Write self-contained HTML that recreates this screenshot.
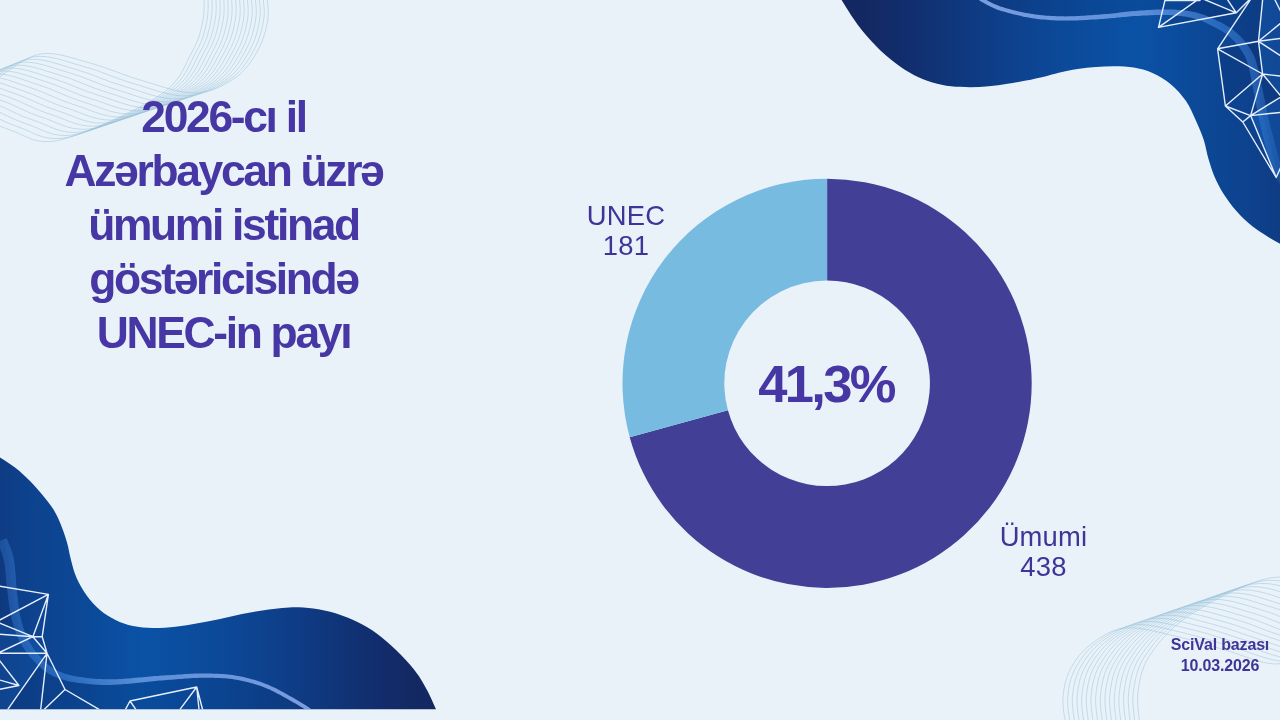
<!DOCTYPE html>
<html lang="az"><head><meta charset="utf-8"><title>UNEC</title>
<style>
html,body{margin:0;padding:0;}
body{width:1280px;height:720px;overflow:hidden;background:#e9f2f9;position:relative;font-family:"Liberation Sans",sans-serif;}
svg{position:absolute;left:0;top:0;}
.title{position:absolute;left:0;top:90.3px;width:447px;text-align:center;font-weight:bold;font-size:44.4px;line-height:54px;letter-spacing:-2.32px;color:#4737a4;}
.pct{position:absolute;left:726px;width:200px;top:354px;text-align:center;font-weight:bold;font-size:52.5px;line-height:60px;letter-spacing:-2.7px;color:#4737a4;}
.lab{position:absolute;font-size:27.4px;letter-spacing:0.2px;line-height:30px;text-align:center;color:#3f3598;}
.src{position:absolute;left:1140px;width:160px;top:633.8px;text-align:center;font-weight:bold;font-size:16px;line-height:21px;letter-spacing:-0.17px;color:#3f3598;}
</style></head><body>
<svg width="1280" height="720" viewBox="0 0 1280 720">
<defs>
<linearGradient id="g1" gradientUnits="userSpaceOnUse" x1="1280" y1="0" x2="840" y2="0">
<stop offset="0" stop-color="#0f3c84"/><stop offset="0.07" stop-color="#0d428e"/><stop offset="0.18" stop-color="#0c4896"/><stop offset="0.32" stop-color="#0a52a6"/><stop offset="0.52" stop-color="#0c4897"/><stop offset="0.7" stop-color="#0f3a82"/><stop offset="0.86" stop-color="#122d6c"/><stop offset="1" stop-color="#14265e"/>
</linearGradient>
<linearGradient id="b1" gradientUnits="userSpaceOnUse" x1="980" y1="0" x2="1280" y2="0"><stop offset="0" stop-color="#8fb0f0" stop-opacity="0.85"/><stop offset="0.55" stop-color="#6f9fe6" stop-opacity="0.8"/><stop offset="0.8" stop-color="#3f86e0" stop-opacity="0.55"/><stop offset="0.92" stop-color="#3f86e0" stop-opacity="0.45"/><stop offset="1" stop-color="#3f86e0" stop-opacity="0.22"/></linearGradient>
<linearGradient id="g2" gradientUnits="userSpaceOnUse" x1="0" y1="0" x2="440" y2="0">
<stop offset="0" stop-color="#0f3c84"/><stop offset="0.07" stop-color="#0d428e"/><stop offset="0.18" stop-color="#0c4896"/><stop offset="0.32" stop-color="#0a52a6"/><stop offset="0.52" stop-color="#0c4897"/><stop offset="0.7" stop-color="#0f3a82"/><stop offset="0.86" stop-color="#122d6c"/><stop offset="1" stop-color="#14265e"/>
</linearGradient>
<linearGradient id="b2" gradientUnits="userSpaceOnUse" x1="0" y1="0" x2="310" y2="0"><stop offset="0" stop-color="#3f86e0" stop-opacity="0.3"/><stop offset="0.08" stop-color="#3f86e0" stop-opacity="0.45"/><stop offset="0.2" stop-color="#3f86e0" stop-opacity="0.55"/><stop offset="0.45" stop-color="#6f9fe6" stop-opacity="0.8"/><stop offset="1" stop-color="#8fb0f0" stop-opacity="0.85"/></linearGradient>
<clipPath id="c1"><path d="M838.0 -6.0 C838.6 -5.0 838.4 -5.1 841.6 0.0 C844.9 5.1 851.8 16.7 857.5 24.4 C863.2 32.1 869.8 39.6 876.0 46.0 C882.2 52.4 888.7 58.0 895.0 62.8 C901.3 67.6 907.5 71.7 913.8 75.0 C920.0 78.3 926.3 80.6 932.5 82.5 C938.7 84.4 944.8 85.5 951.0 86.3 C957.2 87.1 963.7 87.2 970.0 87.2 C976.3 87.2 982.5 86.9 988.8 86.3 C995.0 85.7 1001.3 84.8 1007.5 83.8 C1013.7 82.8 1019.8 81.8 1026.0 80.6 C1032.2 79.4 1039.5 77.8 1045.0 76.5 C1050.5 75.2 1053.3 74.0 1058.8 72.8 C1064.2 71.5 1071.3 70.0 1077.5 69.0 C1083.7 68.0 1089.8 67.5 1096.0 67.0 C1102.2 66.5 1108.7 66.1 1115.0 66.2 C1121.3 66.3 1127.5 66.4 1133.8 67.5 C1140.0 68.6 1146.3 70.2 1152.5 73.0 C1158.7 75.8 1165.4 79.7 1171.0 84.4 C1176.6 89.1 1181.9 95.1 1186.0 101.0 C1190.1 106.9 1192.6 113.5 1195.6 120.0 C1198.6 126.5 1201.6 133.3 1203.8 140.0 C1205.9 146.7 1206.7 153.3 1208.8 160.0 C1210.8 166.7 1213.1 173.8 1216.0 180.0 C1218.9 186.2 1222.0 191.7 1226.0 197.5 C1230.0 203.3 1234.8 209.6 1240.0 215.0 C1245.2 220.4 1250.8 225.2 1257.5 230.0 C1264.2 234.8 1274.6 240.6 1280.0 243.8 C1285.4 246.9 1288.3 248.1 1290.0 249.0 L1290 -6 Z"/></clipPath>
<clipPath id="c2"><path d="M-8.0 452.0 C-6.7 452.9 -3.8 454.9 0.0 457.5 C3.8 460.1 10.0 463.6 15.0 467.5 C20.0 471.4 25.4 476.4 30.0 481.0 C34.6 485.6 38.5 490.2 42.5 495.0 C46.5 499.8 50.7 505.0 53.8 510.0 C56.8 515.0 58.8 519.6 61.0 525.0 C63.2 530.4 65.3 536.7 67.0 542.5 C68.7 548.3 69.4 554.1 71.0 560.0 C72.6 565.9 73.9 571.9 76.5 577.8 C79.1 583.7 82.8 590.1 86.7 595.5 C90.6 600.9 95.2 605.9 100.0 610.0 C104.8 614.1 110.0 617.3 115.5 620.0 C121.0 622.7 126.8 624.7 133.0 626.0 C139.2 627.3 145.9 627.9 153.0 628.0 C160.1 628.1 168.0 627.5 175.5 626.7 C183.0 625.9 190.4 624.6 197.8 623.3 C205.2 622.0 212.6 620.5 220.0 619.0 C227.4 617.5 234.7 615.5 242.0 614.0 C249.3 612.5 257.3 611.3 264.0 610.3 C270.7 609.3 276.2 608.5 282.0 608.0 C287.8 607.5 292.9 607.0 299.0 607.2 C305.1 607.4 311.8 608.1 318.3 609.2 C324.8 610.3 331.4 611.9 337.8 614.0 C344.2 616.1 350.5 618.5 357.0 621.8 C363.5 625.0 370.2 628.8 376.7 633.5 C383.2 638.2 389.5 643.7 396.0 650.0 C402.5 656.3 410.3 664.7 415.5 671.4 C420.7 678.1 423.6 683.7 427.0 690.0 C430.4 696.3 434.5 706.1 436.0 709.3 L-8 709.3 Z"/></clipPath>
</defs>
<g fill="none" stroke="#86b6d2" stroke-width="0.8" stroke-opacity="0.5"><path d="M266.0 -8.0 C266.3 -3.7 269.3 8.3 268.0 18.0 C266.7 27.7 263.5 40.0 258.0 50.0 C252.5 60.0 245.5 70.8 235.0 78.0 C224.5 85.2 210.8 92.7 195.0 93.0 C179.2 93.3 157.5 85.0 140.0 80.0 C122.5 75.0 106.7 67.3 90.0 63.0 C73.3 58.7 55.8 51.2 40.0 54.0 C24.2 56.8 2.5 75.7 -5.0 80.0"/><path d="M262.1 -8.0 C262.4 -3.6 265.3 8.4 263.9 18.1 C262.6 27.8 259.5 40.0 253.9 50.1 C248.3 60.3 241.5 71.4 230.3 79.1 C219.1 86.7 203.0 95.3 186.6 95.9 C170.2 96.6 149.2 88.1 131.9 83.1 C114.5 78.1 99.0 70.4 82.5 66.1 C66.0 61.7 48.8 54.2 33.1 56.9 C17.4 59.6 -4.1 78.0 -11.6 82.2"/><path d="M258.2 -8.0 C258.5 -3.6 261.3 8.5 259.9 18.2 C258.5 28.0 255.5 39.9 249.8 50.2 C244.0 60.6 237.6 72.0 225.6 80.1 C213.7 88.2 195.1 97.9 178.1 98.9 C161.1 99.9 140.9 91.2 123.8 86.2 C106.6 81.3 91.2 73.5 75.0 69.1 C58.8 64.7 41.8 57.2 26.2 59.8 C10.7 62.3 -10.7 80.3 -18.1 84.4"/><path d="M254.4 -8.0 C254.6 -3.6 257.3 8.6 255.8 18.4 C254.4 28.1 251.4 39.9 245.6 50.4 C239.8 60.8 233.6 72.6 220.9 81.2 C208.3 89.8 187.2 100.4 169.7 101.8 C152.1 103.2 132.7 94.3 115.6 89.4 C98.6 84.4 83.5 76.6 67.5 72.2 C51.5 67.7 34.7 60.2 19.4 62.6 C4.0 65.0 -17.3 82.6 -24.7 86.6"/><path d="M250.5 -8.0 C250.7 -3.6 253.2 8.8 251.8 18.5 C250.2 28.2 247.4 39.9 241.5 50.5 C235.6 61.1 229.6 73.2 216.2 82.2 C202.9 91.3 179.4 103.0 161.2 104.8 C143.1 106.5 124.4 97.4 107.5 92.5 C90.6 87.6 75.8 79.8 60.0 75.2 C44.2 70.8 27.7 63.2 12.5 65.5 C-2.7 67.8 -24.0 84.9 -31.2 88.8"/><path d="M246.6 -8.0 C246.8 -3.6 249.2 8.9 247.7 18.6 C246.1 28.4 243.4 39.8 237.4 50.6 C231.4 61.4 225.7 73.8 211.6 83.3 C197.5 92.8 171.5 105.6 152.8 107.7 C134.1 109.7 116.1 100.5 99.4 95.6 C82.7 90.7 68.1 82.9 52.5 78.3 C36.9 73.8 20.7 66.3 5.6 68.4 C-9.4 70.5 -30.6 87.2 -37.8 90.9"/><path d="M242.8 -8.0 C242.9 -3.5 245.2 9.0 243.6 18.8 C242.0 28.5 239.4 39.8 233.2 50.8 C227.1 61.7 221.7 74.4 206.9 84.4 C192.1 94.4 163.6 108.2 144.4 110.6 C125.1 113.0 107.8 103.6 91.2 98.8 C74.7 93.9 60.4 86.0 45.0 81.4 C29.6 76.8 13.6 69.3 -1.2 71.2 C-16.1 73.2 -37.2 89.5 -44.4 93.1"/><path d="M238.9 -8.0 C239.0 -3.5 241.2 9.1 239.6 18.9 C237.9 28.7 235.4 39.8 229.1 50.9 C222.9 62.0 217.7 75.0 202.2 85.4 C186.7 95.9 155.8 110.8 135.9 113.6 C116.1 116.3 99.5 106.7 83.1 101.9 C66.7 97.0 52.7 89.1 37.5 84.4 C22.3 79.8 6.6 72.3 -8.1 74.1 C-22.9 75.9 -43.8 91.8 -50.9 95.3"/><path d="M235.0 -8.0 C235.1 -3.5 237.2 9.2 235.5 19.0 C233.8 28.8 231.3 39.8 225.0 51.0 C218.7 62.2 213.8 75.6 197.5 86.5 C181.2 97.4 147.9 113.4 127.5 116.5 C107.1 119.6 91.2 109.8 75.0 105.0 C58.8 100.2 45.0 92.2 30.0 87.5 C15.0 82.8 -0.4 75.3 -15.0 77.0 C-29.6 78.7 -50.4 94.1 -57.5 97.5"/><path d="M231.1 -8.0 C231.2 -3.5 233.1 9.3 231.4 19.1 C229.7 29.0 227.3 39.7 220.9 51.1 C214.4 62.5 209.8 76.2 192.8 87.6 C175.8 98.9 140.1 116.0 119.1 119.4 C98.1 122.9 83.0 112.9 66.9 108.1 C50.8 103.3 37.3 95.3 22.5 90.6 C7.7 85.9 -7.4 78.4 -21.9 79.9 C-36.3 81.4 -57.0 96.4 -64.1 99.7"/><path d="M227.2 -8.0 C227.3 -3.5 229.1 9.4 227.4 19.2 C225.6 29.1 223.3 39.7 216.8 51.2 C210.2 62.8 205.8 76.8 188.1 88.6 C170.4 100.5 132.2 118.6 110.6 122.4 C89.1 126.1 74.7 116.0 58.8 111.2 C42.8 106.5 29.6 98.4 15.0 93.6 C0.4 88.9 -14.5 81.4 -28.8 82.8 C-43.0 84.1 -63.6 98.7 -70.6 101.9"/><path d="M223.4 -8.0 C223.4 -3.4 225.1 9.5 223.3 19.4 C221.5 29.3 219.3 39.7 212.6 51.4 C206.0 63.1 201.8 77.4 183.4 89.7 C165.0 102.0 124.3 121.2 102.2 125.3 C80.1 129.4 66.4 119.1 50.6 114.4 C34.8 109.6 21.9 101.5 7.5 96.7 C-6.9 91.9 -21.5 84.4 -35.6 85.6 C-49.7 86.9 -70.3 101.0 -77.2 104.1"/><path d="M219.5 -8.0 C219.5 -3.4 221.1 9.6 219.2 19.5 C217.4 29.4 215.2 39.6 208.5 51.5 C201.8 63.4 197.9 78.0 178.8 90.8 C159.6 103.5 116.5 123.8 93.8 128.2 C71.0 132.7 58.1 122.2 42.5 117.5 C26.9 112.8 14.2 104.6 0.0 99.8 C-14.2 94.9 -28.5 87.4 -42.5 88.5 C-56.5 89.6 -76.9 103.3 -83.8 106.2"/><path d="M215.6 -8.0 C215.6 -3.4 217.1 9.7 215.2 19.6 C213.3 29.6 211.2 39.6 204.4 51.6 C197.5 63.7 193.9 78.6 174.1 91.8 C154.2 105.1 108.6 126.4 85.3 131.2 C62.0 136.0 49.8 125.4 34.4 120.6 C18.9 115.9 6.5 107.7 -7.5 102.8 C-21.5 97.9 -35.6 90.4 -49.4 91.4 C-63.2 92.3 -83.5 105.6 -90.3 108.4"/><path d="M211.8 -8.0 C211.6 -3.4 213.0 9.8 211.1 19.8 C209.2 29.7 207.2 39.6 200.2 51.8 C193.3 63.9 189.9 79.1 169.4 92.9 C148.8 106.6 100.7 129.0 76.9 134.1 C53.0 139.3 41.6 128.5 26.2 123.8 C10.9 119.0 -1.2 110.8 -15.0 105.9 C-28.8 101.0 -42.6 93.5 -56.2 94.2 C-69.9 95.0 -90.1 107.9 -96.9 110.6"/><path d="M207.9 -8.0 C207.7 -3.4 209.0 9.9 207.1 19.9 C205.1 29.9 203.2 39.5 196.1 51.9 C189.1 64.2 186.0 79.7 164.7 93.9 C143.4 108.1 92.9 131.6 68.4 137.1 C44.0 142.6 33.3 131.6 18.1 126.9 C3.0 122.2 -9.0 113.9 -22.5 108.9 C-36.0 104.0 -49.6 96.5 -63.1 97.1 C-76.6 97.8 -96.7 110.2 -103.4 112.8"/><path d="M204.0 -8.0 C203.8 -3.3 205.0 10.0 203.0 20.0 C201.0 30.0 199.2 39.5 192.0 52.0 C184.8 64.5 182.0 80.3 160.0 95.0 C138.0 109.7 85.0 134.2 60.0 140.0 C35.0 145.8 25.0 134.7 10.0 130.0 C-5.0 125.3 -16.7 117.0 -30.0 112.0 C-43.3 107.0 -56.7 99.5 -70.0 100.0 C-83.3 100.5 -103.3 112.5 -110.0 115.0"/><path d="M1066.0 726.0 C1065.5 721.3 1062.3 707.3 1063.0 698.0 C1063.7 688.7 1065.5 678.8 1070.0 670.0 C1074.5 661.2 1080.8 652.0 1090.0 645.0 C1099.2 638.0 1110.8 629.5 1125.0 628.0 C1139.2 626.5 1158.3 632.3 1175.0 636.0 C1191.7 639.7 1208.3 645.3 1225.0 650.0 C1241.7 654.7 1260.8 663.7 1275.0 664.0 C1289.2 664.3 1304.2 654.0 1310.0 652.0"/><path d="M1070.6 726.0 C1070.1 721.3 1067.0 707.1 1067.7 697.6 C1068.4 688.1 1070.2 678.1 1075.0 669.1 C1079.8 660.0 1086.4 650.5 1096.2 643.1 C1106.1 635.8 1119.3 626.5 1134.1 624.9 C1148.8 623.2 1168.0 629.4 1184.7 633.1 C1201.4 636.9 1217.6 642.8 1234.1 647.5 C1250.5 652.2 1269.3 661.0 1283.4 661.2 C1297.6 661.5 1312.9 650.8 1318.8 648.8"/><path d="M1075.2 726.0 C1074.8 721.2 1071.6 706.9 1072.4 697.2 C1073.2 687.6 1075.0 677.5 1080.0 668.1 C1085.0 658.8 1092.0 649.0 1102.5 641.2 C1113.0 633.5 1127.8 623.6 1143.1 621.8 C1158.4 619.9 1177.7 626.4 1194.4 630.2 C1211.0 634.1 1226.9 640.3 1243.1 645.0 C1259.4 649.7 1277.8 658.4 1291.9 658.5 C1305.9 658.6 1321.6 647.7 1327.5 645.5"/><path d="M1079.9 726.0 C1079.4 721.1 1076.2 706.7 1077.1 696.9 C1077.9 687.1 1079.7 676.8 1085.0 667.2 C1090.3 657.6 1097.6 647.5 1108.8 639.4 C1119.9 631.3 1136.3 620.6 1152.2 618.6 C1168.1 616.6 1187.4 623.4 1204.1 627.4 C1220.7 631.4 1236.1 637.8 1252.2 642.5 C1268.2 647.2 1286.3 655.8 1300.3 655.8 C1314.3 655.7 1330.3 644.5 1336.2 642.2"/><path d="M1084.5 726.0 C1084.0 721.1 1080.8 706.5 1081.8 696.5 C1082.7 686.5 1084.5 676.1 1090.0 666.2 C1095.5 656.4 1103.1 646.0 1115.0 637.5 C1126.9 629.0 1144.8 617.7 1161.2 615.5 C1177.7 613.3 1197.1 620.4 1213.8 624.5 C1230.4 628.6 1245.4 635.2 1261.2 640.0 C1277.1 644.8 1294.8 653.2 1308.8 653.0 C1322.7 652.8 1339.0 641.3 1345.0 639.0"/><path d="M1089.1 726.0 C1088.7 721.0 1085.5 706.2 1086.4 696.1 C1087.4 686.0 1089.2 675.4 1095.0 665.3 C1100.8 655.2 1108.7 644.4 1121.2 635.6 C1133.8 626.8 1153.3 614.7 1170.3 612.4 C1187.3 610.0 1206.8 617.4 1223.4 621.6 C1240.1 625.8 1254.7 632.7 1270.3 637.5 C1285.9 642.3 1303.3 650.5 1317.2 650.2 C1331.1 650.0 1347.7 638.2 1353.8 635.8"/><path d="M1093.8 726.0 C1093.3 721.0 1090.1 706.0 1091.1 695.8 C1092.2 685.5 1093.9 674.7 1100.0 664.4 C1106.1 654.0 1114.3 642.9 1127.5 633.8 C1140.7 624.6 1161.8 611.8 1179.4 609.2 C1197.0 606.8 1216.5 614.5 1233.1 618.8 C1249.8 623.0 1264.0 630.2 1279.4 635.0 C1294.8 639.8 1311.8 647.9 1325.6 647.5 C1339.5 647.1 1356.4 635.0 1362.5 632.5"/><path d="M1098.4 726.0 C1097.9 720.9 1094.7 705.8 1095.8 695.4 C1096.9 684.9 1098.7 674.0 1105.0 663.4 C1111.3 652.9 1119.8 641.4 1133.8 631.9 C1147.7 622.3 1170.3 608.8 1188.4 606.1 C1206.6 603.5 1226.1 611.5 1242.8 615.9 C1259.5 620.3 1273.2 627.7 1288.4 632.5 C1303.6 637.3 1320.3 645.3 1334.1 644.8 C1347.9 644.2 1365.1 631.8 1371.2 629.2"/><path d="M1103.0 726.0 C1102.6 720.8 1099.3 705.6 1100.5 695.0 C1101.7 684.4 1103.4 673.3 1110.0 662.5 C1116.6 651.7 1125.4 639.9 1140.0 630.0 C1154.6 620.1 1178.8 605.8 1197.5 603.0 C1216.2 600.2 1235.8 608.5 1252.5 613.0 C1269.2 617.5 1282.5 625.2 1297.5 630.0 C1312.5 634.8 1328.8 642.7 1342.5 642.0 C1356.2 641.3 1373.8 628.7 1380.0 626.0"/><path d="M1107.6 726.0 C1107.2 720.8 1104.0 705.4 1105.2 694.6 C1106.4 683.9 1108.2 672.6 1115.0 661.6 C1121.8 650.5 1131.0 638.4 1146.2 628.1 C1161.5 617.8 1187.2 602.9 1206.6 599.9 C1225.9 596.9 1245.5 605.5 1262.2 610.1 C1278.9 614.7 1291.8 622.6 1306.6 627.5 C1321.4 632.4 1337.2 640.0 1350.9 639.2 C1364.6 638.5 1382.4 625.5 1388.8 622.8"/><path d="M1112.2 726.0 C1111.9 720.7 1108.6 705.1 1109.9 694.2 C1111.2 683.4 1112.9 672.0 1120.0 660.6 C1127.1 649.3 1136.6 636.9 1152.5 626.2 C1168.4 615.6 1195.7 599.9 1215.6 596.8 C1235.5 593.6 1255.2 602.5 1271.9 607.2 C1288.5 612.0 1301.0 620.1 1315.6 625.0 C1330.2 629.9 1345.7 637.4 1359.4 636.5 C1373.0 635.6 1391.1 622.3 1397.5 619.5"/><path d="M1116.9 726.0 C1116.5 720.6 1113.2 704.9 1114.6 693.9 C1115.9 682.8 1117.6 671.3 1125.0 659.7 C1132.4 648.1 1142.1 635.4 1158.8 624.4 C1175.4 613.4 1204.2 597.0 1224.7 593.6 C1245.2 590.3 1264.9 599.6 1281.6 604.4 C1298.2 609.2 1310.3 617.6 1324.7 622.5 C1339.1 627.4 1354.2 634.8 1367.8 633.8 C1381.4 632.7 1399.8 619.2 1406.2 616.2"/><path d="M1121.5 726.0 C1121.1 720.6 1117.8 704.7 1119.2 693.5 C1120.7 682.3 1122.4 670.6 1130.0 658.8 C1137.6 646.9 1147.7 633.9 1165.0 622.5 C1182.3 611.1 1212.7 594.0 1233.8 590.5 C1254.8 587.0 1274.6 596.6 1291.2 601.5 C1307.9 606.4 1319.6 615.1 1333.8 620.0 C1347.9 624.9 1362.7 632.2 1376.2 631.0 C1389.8 629.8 1408.5 616.0 1415.0 613.0"/><path d="M1126.1 726.0 C1125.8 720.5 1122.5 704.5 1123.9 693.1 C1125.4 681.8 1127.1 669.9 1135.0 657.8 C1142.9 645.7 1153.3 632.4 1171.2 620.6 C1189.2 608.9 1221.2 591.0 1242.8 587.4 C1264.4 583.7 1284.3 593.6 1300.9 598.6 C1317.6 603.6 1328.9 612.6 1342.8 617.5 C1356.8 622.4 1371.2 629.5 1384.7 628.2 C1398.2 627.0 1417.2 612.8 1423.8 609.8"/><path d="M1130.8 726.0 C1130.4 720.5 1127.1 704.3 1128.6 692.8 C1130.2 681.2 1131.9 669.2 1140.0 656.9 C1148.1 644.5 1158.9 630.9 1177.5 618.8 C1196.1 606.6 1229.7 588.1 1251.9 584.2 C1274.1 580.4 1294.0 590.6 1310.6 595.8 C1327.3 600.9 1338.1 610.0 1351.9 615.0 C1365.6 620.0 1379.7 626.9 1393.1 625.5 C1406.6 624.1 1425.9 609.7 1432.5 606.5"/><path d="M1135.4 726.0 C1135.0 720.4 1131.7 704.1 1133.3 692.4 C1134.9 680.7 1136.6 668.5 1145.0 655.9 C1153.4 643.4 1164.4 629.3 1183.8 616.9 C1203.1 604.4 1238.2 585.1 1260.9 581.1 C1283.7 577.1 1303.6 587.6 1320.3 592.9 C1337.0 598.1 1347.4 607.5 1360.9 612.5 C1374.5 617.5 1388.2 624.3 1401.6 622.8 C1414.9 621.2 1434.6 606.5 1441.2 603.2"/><path d="M1140.0 726.0 C1139.7 720.3 1136.3 703.8 1138.0 692.0 C1139.7 680.2 1141.3 667.8 1150.0 655.0 C1158.7 642.2 1170.0 627.8 1190.0 615.0 C1210.0 602.2 1246.7 582.2 1270.0 578.0 C1293.3 573.8 1313.3 584.7 1330.0 590.0 C1346.7 595.3 1356.7 605.0 1370.0 610.0 C1383.3 615.0 1396.7 621.7 1410.0 620.0 C1423.3 618.3 1443.3 603.3 1450.0 600.0"/></g>
<path d="M838.0 -6.0 C838.6 -5.0 838.4 -5.1 841.6 0.0 C844.9 5.1 851.8 16.7 857.5 24.4 C863.2 32.1 869.8 39.6 876.0 46.0 C882.2 52.4 888.7 58.0 895.0 62.8 C901.3 67.6 907.5 71.7 913.8 75.0 C920.0 78.3 926.3 80.6 932.5 82.5 C938.7 84.4 944.8 85.5 951.0 86.3 C957.2 87.1 963.7 87.2 970.0 87.2 C976.3 87.2 982.5 86.9 988.8 86.3 C995.0 85.7 1001.3 84.8 1007.5 83.8 C1013.7 82.8 1019.8 81.8 1026.0 80.6 C1032.2 79.4 1039.5 77.8 1045.0 76.5 C1050.5 75.2 1053.3 74.0 1058.8 72.8 C1064.2 71.5 1071.3 70.0 1077.5 69.0 C1083.7 68.0 1089.8 67.5 1096.0 67.0 C1102.2 66.5 1108.7 66.1 1115.0 66.2 C1121.3 66.3 1127.5 66.4 1133.8 67.5 C1140.0 68.6 1146.3 70.2 1152.5 73.0 C1158.7 75.8 1165.4 79.7 1171.0 84.4 C1176.6 89.1 1181.9 95.1 1186.0 101.0 C1190.1 106.9 1192.6 113.5 1195.6 120.0 C1198.6 126.5 1201.6 133.3 1203.8 140.0 C1205.9 146.7 1206.7 153.3 1208.8 160.0 C1210.8 166.7 1213.1 173.8 1216.0 180.0 C1218.9 186.2 1222.0 191.7 1226.0 197.5 C1230.0 203.3 1234.8 209.6 1240.0 215.0 C1245.2 220.4 1250.8 225.2 1257.5 230.0 C1264.2 234.8 1274.6 240.6 1280.0 243.8 C1285.4 246.9 1288.3 248.1 1290.0 249.0 L1290 -6 Z" fill="url(#g1)"/>
<g clip-path="url(#c1)"><path d="M1263 -2 L1285 -2 L1285 100 L1262.6 74 L1258.5 41.3 Z M1250.6 115.6 L1285 95 L1285 165 L1276.2 177.5 Z" fill="#1a6fd0" fill-opacity="0.38"/><path d="M1217.6 48.8 L1258.5 41.3 L1262.6 74 L1225.4 106 Z M1158.5 27.4 L1236.3 12.8 L1200 0 Z" fill="#0a2a66" fill-opacity="0.22"/><path d="M976.0 -5.0 L976.4 -4.6 L977.0 -4.2 L977.6 -3.6 L978.3 -3.0 L979.2 -2.3 L980.1 -1.5 L981.2 -0.8 L982.5 0.0 L983.9 0.8 L985.6 1.8 L987.3 2.7 L989.2 3.7 L991.2 4.7 L993.3 5.7 L995.4 6.7 L997.5 7.5 L999.6 8.3 L1001.9 9.0 L1004.2 9.7 L1006.5 10.4 L1008.9 11.0 L1011.3 11.6 L1013.6 12.2 L1016.0 12.8 L1018.4 13.4 L1020.7 13.9 L1023.1 14.4 L1025.5 14.9 L1027.9 15.3 L1030.2 15.8 L1032.6 16.1 L1035.0 16.5 L1037.4 16.8 L1039.8 17.1 L1042.1 17.3 L1044.5 17.6 L1046.9 17.8 L1049.3 17.9 L1051.6 18.1 L1054.0 18.2 L1056.3 18.3 L1058.7 18.4 L1061.0 18.4 L1063.3 18.5 L1065.6 18.5 L1067.9 18.5 L1070.2 18.4 L1072.5 18.4 L1074.8 18.3 L1077.1 18.2 L1079.4 18.1 L1081.7 18.0 L1084.0 17.9 L1086.3 17.7 L1088.7 17.6 L1091.0 17.4 L1093.4 17.2 L1095.7 17.1 L1098.1 16.9 L1100.5 16.8 L1102.9 16.6 L1105.2 16.4 L1107.6 16.2 L1110.0 16.0 L1112.4 15.8 L1114.8 15.5 L1117.1 15.3 L1119.5 15.0 L1121.9 14.7 L1124.3 14.5 L1126.6 14.2 L1129.0 14.0 L1131.3 13.8 L1133.7 13.6 L1136.0 13.4 L1138.3 13.3 L1140.6 13.1 L1142.9 13.0 L1145.2 12.9 L1147.5 12.8 L1149.8 12.6 L1152.1 12.5 L1154.4 12.4 L1156.7 12.3 L1159.0 12.2 L1161.3 12.2 L1163.7 12.2 L1166.0 12.2 L1168.4 12.3 L1170.8 12.3 L1173.3 12.5 L1175.7 12.6 L1178.1 12.8 L1180.5 13.0 L1182.8 13.2 L1185.0 13.5 L1187.1 13.8 L1189.1 14.2 L1191.0 14.5 L1192.9 14.9 L1194.7 15.4 L1196.5 15.8 L1198.2 16.4 L1200.0 16.9 L1201.7 17.5 L1203.4 18.1 L1205.0 18.8 L1206.6 19.5 L1208.2 20.2 L1209.8 20.9 L1211.4 21.7 L1213.0 22.5 L1214.6 23.3 L1216.3 24.1 L1218.0 24.9 L1219.6 25.8 L1221.3 26.7 L1222.9 27.6 L1224.5 28.5 L1226.0 29.5 L1227.5 30.5 L1228.9 31.6 L1230.4 32.6 L1231.8 33.7 L1233.1 34.9 L1234.4 36.0 L1235.7 37.2 L1237.0 38.5 L1238.2 39.8 L1239.5 41.2 L1240.7 42.6 L1241.8 44.0 L1242.9 45.5 L1244.0 47.0 L1245.0 48.5 L1246.0 50.0 L1246.9 51.5 L1247.7 52.8 L1248.5 54.1 L1249.2 55.5 L1249.9 57.0 L1250.6 58.7 L1251.3 60.7 L1252.0 63.0 L1252.8 65.7 L1253.5 68.7 L1254.2 72.0 L1255.0 75.4 L1255.8 79.0 L1256.5 82.7 L1257.2 86.4 L1258.0 90.0 L1258.8 93.7 L1259.5 97.5 L1260.3 101.5 L1261.1 105.4 L1261.8 109.4 L1262.6 113.1 L1263.3 116.7 L1264.0 120.0 L1264.7 122.9 L1265.3 125.6 L1265.9 128.0 L1266.4 130.3 L1267.0 132.6 L1267.6 134.9 L1268.3 137.3 L1269.0 140.0 L1269.8 142.9 L1270.5 146.0 L1271.3 149.2 L1272.2 152.5 L1273.1 155.8 L1274.0 159.0 L1275.0 162.1 L1276.0 165.0 L1277.2 167.9 L1278.5 170.8 L1280.0 173.7 L1281.4 176.6 L1282.9 179.2 L1284.1 181.5 L1285.2 183.5 L1286.0 185.0 L1290 190 L1290 -8 Z" fill="#0a2460" fill-opacity="0.13"/><path d="M974.7 -3.5 L975.1 -3.1 L975.6 -2.7 L976.3 -2.1 L977.0 -1.4 L977.9 -0.7 L979.0 0.1 L980.1 0.9 L981.5 1.7 L983.0 2.6 L984.6 3.5 L986.4 4.5 L988.3 5.5 L990.4 6.5 L992.5 7.5 L994.6 8.5 L996.8 9.4 L999.0 10.2 L1001.3 10.9 L1003.6 11.6 L1006.0 12.3 L1008.4 13.0 L1010.8 13.6 L1013.2 14.2 L1015.5 14.7 L1017.9 15.3 L1020.3 15.8 L1022.7 16.4 L1025.1 16.9 L1027.5 17.3 L1029.9 17.8 L1032.3 18.2 L1034.7 18.5 L1037.1 18.9 L1039.5 19.2 L1041.9 19.4 L1044.4 19.6 L1046.8 19.8 L1049.1 20.0 L1051.5 20.2 L1053.9 20.3 L1056.3 20.4 L1058.6 20.5 L1060.9 20.6 L1063.3 20.6 L1065.6 20.6 L1067.9 20.6 L1070.2 20.6 L1072.6 20.5 L1074.9 20.5 L1077.2 20.4 L1079.5 20.3 L1081.8 20.2 L1084.2 20.1 L1086.5 19.9 L1088.8 19.8 L1091.1 19.6 L1093.5 19.5 L1095.9 19.4 L1098.2 19.2 L1100.6 19.1 L1103.0 18.9 L1105.4 18.7 L1107.8 18.5 L1110.2 18.3 L1112.6 18.1 L1115.0 17.9 L1117.4 17.6 L1119.8 17.4 L1122.2 17.1 L1124.5 16.9 L1126.9 16.7 L1129.2 16.5 L1131.5 16.3 L1133.9 16.1 L1136.2 16.0 L1138.5 15.9 L1140.7 15.7 L1143.0 15.6 L1145.3 15.5 L1147.6 15.4 L1149.9 15.3 L1152.2 15.2 L1154.5 15.1 L1156.8 15.0 L1159.1 15.0 L1161.4 14.9 L1163.7 15.0 L1166.0 15.0 L1168.3 15.1 L1170.7 15.2 L1173.1 15.3 L1175.5 15.5 L1177.9 15.7 L1180.2 15.9 L1182.5 16.2 L1184.6 16.5 L1186.6 16.8 L1188.5 17.2 L1190.4 17.5 L1192.2 17.9 L1193.9 18.4 L1195.6 18.9 L1197.3 19.4 L1199.0 19.9 L1200.6 20.5 L1202.2 21.1 L1203.7 21.8 L1205.3 22.5 L1206.8 23.2 L1208.3 24.0 L1209.9 24.8 L1211.5 25.6 L1213.1 26.4 L1214.7 27.3 L1216.4 28.1 L1218.0 29.0 L1219.5 29.8 L1221.1 30.7 L1222.5 31.6 L1224.0 32.6 L1225.4 33.6 L1226.7 34.6 L1228.1 35.6 L1229.4 36.7 L1230.6 37.8 L1231.8 38.9 L1233.0 40.0 L1234.2 41.2 L1235.4 42.5 L1236.5 43.8 L1237.6 45.1 L1238.7 46.5 L1239.7 47.9 L1240.7 49.3 L1241.6 50.7 L1242.5 52.2 L1243.4 53.6 L1244.1 54.9 L1244.8 56.1 L1245.4 57.4 L1246.0 58.7 L1246.6 60.2 L1247.2 62.1 L1247.9 64.2 L1248.6 66.8 L1249.3 69.7 L1250.0 72.9 L1250.7 76.4 L1251.4 79.9 L1252.1 83.6 L1252.9 87.3 L1253.6 90.9 L1254.3 94.6 L1255.1 98.4 L1255.8 102.3 L1256.5 106.3 L1257.3 110.2 L1258.0 114.0 L1258.7 117.7 L1259.4 121.0 L1260.1 124.0 L1260.6 126.7 L1261.2 129.2 L1261.8 131.5 L1262.3 133.8 L1262.9 136.1 L1263.6 138.6 L1264.3 141.2 L1265.0 144.1 L1265.8 147.2 L1266.6 150.4 L1267.4 153.8 L1268.3 157.1 L1269.2 160.4 L1270.2 163.7 L1271.3 166.8 L1272.6 169.9 L1274.0 173.0 L1275.5 176.0 L1277.0 178.9 L1278.5 181.6 L1279.7 183.9 L1280.8 185.9 L1281.6 187.3 L1290.4 182.7 L1289.6 181.1 L1288.5 179.1 L1287.2 176.8 L1285.9 174.2 L1284.4 171.5 L1283.0 168.7 L1281.8 165.9 L1280.7 163.2 L1279.7 160.5 L1278.8 157.5 L1277.9 154.4 L1277.0 151.2 L1276.1 148.0 L1275.3 144.8 L1274.5 141.7 L1273.7 138.8 L1273.0 136.1 L1272.3 133.6 L1271.7 131.4 L1271.1 129.1 L1270.5 126.9 L1269.9 124.5 L1269.3 121.9 L1268.6 119.0 L1267.9 115.8 L1267.1 112.2 L1266.4 108.5 L1265.6 104.6 L1264.8 100.6 L1264.0 96.6 L1263.2 92.8 L1262.4 89.1 L1261.6 85.5 L1260.9 81.8 L1260.1 78.1 L1259.3 74.5 L1258.5 71.0 L1257.7 67.7 L1256.9 64.6 L1256.1 61.8 L1255.3 59.3 L1254.5 57.2 L1253.8 55.4 L1253.0 53.7 L1252.1 52.2 L1251.3 50.7 L1250.4 49.3 L1249.5 47.8 L1248.4 46.2 L1247.3 44.6 L1246.2 43.1 L1245.0 41.5 L1243.7 40.0 L1242.4 38.6 L1241.1 37.1 L1239.8 35.8 L1238.4 34.5 L1237.0 33.2 L1235.6 32.0 L1234.1 30.8 L1232.7 29.6 L1231.2 28.5 L1229.6 27.5 L1228.0 26.4 L1226.4 25.4 L1224.7 24.4 L1223.0 23.5 L1221.3 22.6 L1219.6 21.8 L1217.9 21.0 L1216.2 20.2 L1214.5 19.4 L1212.9 18.6 L1211.3 17.9 L1209.6 17.2 L1208.0 16.4 L1206.3 15.7 L1204.6 15.1 L1202.8 14.4 L1201.0 13.9 L1199.2 13.3 L1197.3 12.8 L1195.5 12.3 L1193.6 11.9 L1191.6 11.5 L1189.6 11.2 L1187.6 10.8 L1185.4 10.5 L1183.2 10.3 L1180.8 10.0 L1178.4 9.9 L1175.9 9.7 L1173.4 9.6 L1170.9 9.5 L1168.5 9.4 L1166.0 9.4 L1163.7 9.4 L1161.3 9.4 L1159.0 9.5 L1156.6 9.6 L1154.3 9.7 L1152.0 9.8 L1149.7 10.0 L1147.4 10.1 L1145.1 10.2 L1142.7 10.4 L1140.4 10.5 L1138.1 10.7 L1135.8 10.9 L1133.5 11.1 L1131.1 11.3 L1128.8 11.5 L1126.4 11.7 L1124.0 12.0 L1121.6 12.3 L1119.3 12.6 L1116.9 12.9 L1114.5 13.2 L1112.1 13.4 L1109.8 13.7 L1107.4 13.9 L1105.1 14.1 L1102.7 14.3 L1100.3 14.5 L1097.9 14.7 L1095.6 14.8 L1093.2 15.0 L1090.9 15.2 L1088.5 15.3 L1086.2 15.5 L1083.9 15.7 L1081.6 15.8 L1079.3 15.9 L1077.0 16.1 L1074.7 16.2 L1072.4 16.3 L1070.2 16.3 L1067.9 16.3 L1065.6 16.4 L1063.3 16.3 L1061.0 16.3 L1058.7 16.3 L1056.4 16.2 L1054.1 16.1 L1051.8 16.0 L1049.4 15.8 L1047.1 15.7 L1044.7 15.5 L1042.3 15.3 L1040.0 15.1 L1037.6 14.8 L1035.3 14.5 L1032.9 14.1 L1030.6 13.7 L1028.2 13.3 L1025.9 12.9 L1023.5 12.4 L1021.1 11.9 L1018.8 11.4 L1016.5 10.9 L1014.1 10.3 L1011.7 9.7 L1009.4 9.1 L1007.0 8.5 L1004.7 7.8 L1002.5 7.1 L1000.3 6.4 L998.2 5.6 L996.2 4.8 L994.1 3.9 L992.1 2.9 L990.2 2.0 L988.3 1.0 L986.5 0.0 L984.9 -0.9 L983.5 -1.7 L982.3 -2.5 L981.3 -3.2 L980.4 -3.8 L979.6 -4.5 L978.9 -5.1 L978.3 -5.6 L977.8 -6.1 L977.3 -6.5Z" fill="url(#b1)"/>
<path d="M1158.5 27.4 L1166.0 -4.0 M1158.5 27.4 L1203.0 -4.0 M1158.5 27.4 L1236.3 12.8 M1196.0 -4.0 L1236.3 12.8 M1225.0 -4.0 L1236.3 12.8 M1236.3 12.8 L1253.0 -4.0 M1251.5 -2.0 L1217.6 48.8 M1217.6 48.8 L1258.5 41.3 M1263.0 -4.0 L1258.5 41.3 M1258.5 41.3 L1284.0 20.5 M1258.5 41.3 L1284.0 38.0 M1258.5 41.3 L1284.0 58.0 M1258.5 41.3 L1262.6 74.0 M1217.6 48.8 L1262.6 74.0 M1217.6 48.8 L1225.4 106.0 M1225.4 106.0 L1262.6 74.0 M1262.6 74.0 L1284.0 76.5 M1262.6 74.0 L1284.0 100.0 M1262.6 74.0 L1250.6 115.6 M1225.4 106.0 L1250.6 115.6 M1250.6 115.6 L1284.0 95.0 M1250.6 115.6 L1284.0 112.0 M1225.4 106.0 L1242.8 122.0 M1250.6 115.6 L1242.8 122.0 M1242.8 122.0 L1276.2 177.5 M1250.6 115.6 L1276.2 177.5 M1276.2 177.5 L1284.0 160.0 M1274.0 -2.0 L1284.0 18.0 M1166.0 0.5 L1200.0 0.5" fill="none" stroke="#e6eefc" stroke-width="1.4" stroke-linecap="round"/></g>
<path d="M-8.0 452.0 C-6.7 452.9 -3.8 454.9 0.0 457.5 C3.8 460.1 10.0 463.6 15.0 467.5 C20.0 471.4 25.4 476.4 30.0 481.0 C34.6 485.6 38.5 490.2 42.5 495.0 C46.5 499.8 50.7 505.0 53.8 510.0 C56.8 515.0 58.8 519.6 61.0 525.0 C63.2 530.4 65.3 536.7 67.0 542.5 C68.7 548.3 69.4 554.1 71.0 560.0 C72.6 565.9 73.9 571.9 76.5 577.8 C79.1 583.7 82.8 590.1 86.7 595.5 C90.6 600.9 95.2 605.9 100.0 610.0 C104.8 614.1 110.0 617.3 115.5 620.0 C121.0 622.7 126.8 624.7 133.0 626.0 C139.2 627.3 145.9 627.9 153.0 628.0 C160.1 628.1 168.0 627.5 175.5 626.7 C183.0 625.9 190.4 624.6 197.8 623.3 C205.2 622.0 212.6 620.5 220.0 619.0 C227.4 617.5 234.7 615.5 242.0 614.0 C249.3 612.5 257.3 611.3 264.0 610.3 C270.7 609.3 276.2 608.5 282.0 608.0 C287.8 607.5 292.9 607.0 299.0 607.2 C305.1 607.4 311.8 608.1 318.3 609.2 C324.8 610.3 331.4 611.9 337.8 614.0 C344.2 616.1 350.5 618.5 357.0 621.8 C363.5 625.0 370.2 628.8 376.7 633.5 C383.2 638.2 389.5 643.7 396.0 650.0 C402.5 656.3 410.3 664.7 415.5 671.4 C420.7 678.1 423.6 683.7 427.0 690.0 C430.4 696.3 434.5 706.1 436.0 709.3 L-8 709.3 Z" fill="url(#g2)"/>
<g clip-path="url(#c2)"><path d="M-4 622 L32.9 636.7 L47 653.3 L7.8 709.3 L-4 709.3 Z" fill="#1a6fd0" fill-opacity="0.25"/><path d="M2.0 540.0 L2.6 541.5 L3.3 543.4 L4.2 545.6 L5.3 548.1 L6.3 550.9 L7.3 553.8 L8.2 556.9 L8.9 560.0 L9.5 563.3 L9.9 566.9 L10.3 570.7 L10.7 574.7 L11.0 578.6 L11.3 582.6 L11.6 586.4 L12.0 590.0 L12.4 593.5 L12.8 596.9 L13.2 600.2 L13.6 603.5 L14.0 606.6 L14.5 609.7 L15.0 612.7 L15.5 615.5 L16.1 618.2 L16.7 620.7 L17.3 623.1 L18.0 625.4 L18.7 627.6 L19.4 629.8 L20.2 631.9 L21.0 634.0 L21.9 636.1 L22.8 638.1 L23.7 640.0 L24.7 641.9 L25.7 643.7 L26.8 645.5 L27.9 647.3 L29.0 649.0 L30.1 650.7 L31.3 652.3 L32.5 653.8 L33.8 655.3 L35.0 656.8 L36.3 658.2 L37.6 659.6 L39.0 661.0 L40.4 662.4 L41.8 663.7 L43.3 665.1 L44.8 666.4 L46.3 667.6 L47.8 668.8 L49.4 670.0 L51.0 671.0 L52.6 672.0 L54.3 672.9 L56.1 673.7 L57.8 674.4 L59.6 675.1 L61.4 675.8 L63.2 676.4 L65.0 677.0 L66.8 677.5 L68.6 678.0 L70.4 678.4 L72.2 678.8 L74.1 679.1 L76.0 679.4 L77.9 679.7 L80.0 680.0 L82.2 680.3 L84.4 680.6 L86.8 680.9 L89.1 681.1 L91.6 681.4 L94.0 681.6 L96.4 681.8 L98.8 681.9 L101.1 682.0 L103.4 682.1 L105.8 682.1 L108.1 682.1 L110.5 682.1 L112.8 682.0 L115.2 682.0 L117.5 681.9 L119.8 681.8 L122.1 681.6 L124.4 681.5 L126.7 681.3 L129.0 681.1 L131.3 680.8 L133.7 680.6 L136.0 680.4 L138.4 680.2 L140.7 679.9 L143.1 679.7 L145.5 679.4 L147.9 679.2 L150.3 678.9 L152.6 678.7 L155.0 678.5 L157.4 678.3 L159.7 678.1 L162.0 678.0 L164.4 677.8 L166.7 677.7 L169.1 677.5 L171.4 677.4 L173.8 677.2 L176.1 677.0 L178.4 676.8 L180.8 676.7 L183.1 676.5 L185.5 676.3 L187.8 676.1 L190.2 676.0 L192.5 675.9 L194.8 675.8 L197.1 675.7 L199.4 675.7 L201.7 675.6 L204.0 675.6 L206.3 675.6 L208.7 675.7 L211.0 675.7 L213.4 675.8 L215.7 675.8 L218.1 675.9 L220.5 676.0 L222.9 676.1 L225.3 676.3 L227.6 676.5 L230.0 676.8 L232.4 677.1 L234.7 677.5 L237.0 677.9 L239.4 678.3 L241.7 678.7 L244.1 679.3 L246.4 679.8 L248.8 680.4 L251.1 681.0 L253.4 681.7 L255.8 682.4 L258.1 683.1 L260.5 683.9 L262.8 684.8 L265.2 685.7 L267.5 686.6 L269.8 687.6 L272.1 688.7 L274.4 689.8 L276.7 691.0 L279.0 692.2 L281.3 693.4 L283.7 694.7 L286.0 696.0 L288.4 697.3 L290.9 698.8 L293.4 700.2 L296.0 701.7 L298.4 703.2 L300.8 704.6 L303.0 706.0 L305.0 707.2 L306.8 708.4 L308.6 709.6 L310.2 710.7 L311.7 711.8 L313.0 712.8 L314.2 713.7 L315.2 714.4 L316.0 715.0 L316 720 L-10 720 L-10 540 Z" fill="#0a2460" fill-opacity="0.13"/><path d="M-2.7 541.8 L-2.1 543.3 L-1.3 545.3 L-0.4 547.5 L0.6 549.9 L1.6 552.6 L2.5 555.3 L3.3 558.2 L4.0 561.0 L4.5 564.0 L5.0 567.5 L5.4 571.2 L5.8 575.1 L6.1 579.0 L6.4 583.0 L6.8 586.9 L7.2 590.5 L7.7 594.0 L8.1 597.4 L8.5 600.8 L9.0 604.1 L9.5 607.3 L10.0 610.4 L10.5 613.5 L11.1 616.4 L11.7 619.2 L12.4 621.8 L13.0 624.3 L13.8 626.7 L14.5 629.0 L15.3 631.2 L16.1 633.4 L17.0 635.6 L18.0 637.8 L18.9 639.9 L20.0 641.9 L21.1 643.9 L22.2 645.8 L23.3 647.7 L24.5 649.5 L25.7 651.2 L26.9 653.0 L28.2 654.6 L29.5 656.2 L30.8 657.8 L32.2 659.3 L33.5 660.8 L35.0 662.2 L36.4 663.6 L37.8 665.0 L39.3 666.4 L40.9 667.8 L42.4 669.1 L44.1 670.4 L45.7 671.6 L47.4 672.8 L49.2 673.9 L51.0 675.0 L52.8 675.9 L54.7 676.7 L56.5 677.5 L58.4 678.2 L60.3 678.9 L62.2 679.5 L64.1 680.1 L66.0 680.6 L67.9 681.0 L69.7 681.4 L71.6 681.8 L73.5 682.1 L75.5 682.4 L77.5 682.7 L79.6 683.0 L81.8 683.3 L84.1 683.5 L86.4 683.8 L88.8 684.1 L91.3 684.3 L93.7 684.5 L96.2 684.7 L98.6 684.8 L101.0 684.9 L103.4 684.9 L105.8 685.0 L108.1 684.9 L110.5 684.9 L112.9 684.8 L115.3 684.8 L117.6 684.6 L120.0 684.5 L122.3 684.3 L124.7 684.1 L127.0 683.9 L129.3 683.7 L131.6 683.5 L133.9 683.2 L136.2 683.0 L138.6 682.7 L141.0 682.5 L143.4 682.2 L145.7 681.9 L148.1 681.7 L150.5 681.4 L152.9 681.2 L155.2 680.9 L157.5 680.7 L159.9 680.5 L162.2 680.4 L164.5 680.2 L166.9 680.0 L169.2 679.8 L171.6 679.7 L173.9 679.5 L176.3 679.3 L178.6 679.1 L181.0 678.9 L183.3 678.7 L185.6 678.5 L188.0 678.4 L190.3 678.2 L192.6 678.1 L194.9 678.0 L197.2 677.9 L199.5 677.8 L201.8 677.8 L204.0 677.8 L206.3 677.8 L208.6 677.8 L211.0 677.8 L213.3 677.8 L215.7 677.9 L218.0 678.0 L220.4 678.1 L222.7 678.2 L225.1 678.3 L227.4 678.5 L229.8 678.8 L232.1 679.1 L234.4 679.4 L236.7 679.8 L239.0 680.2 L241.3 680.7 L243.6 681.2 L245.9 681.7 L248.3 682.3 L250.6 682.9 L252.9 683.6 L255.2 684.2 L257.5 685.0 L259.9 685.7 L262.2 686.6 L264.5 687.4 L266.8 688.4 L269.0 689.3 L271.3 690.4 L273.6 691.5 L275.9 692.7 L278.1 693.9 L280.4 695.1 L282.8 696.4 L285.1 697.7 L287.5 699.0 L290.0 700.4 L292.5 701.9 L295.0 703.3 L297.5 704.8 L299.8 706.2 L302.0 707.6 L304.0 708.8 L305.8 710.0 L307.5 711.1 L309.1 712.3 L310.6 713.3 L311.9 714.3 L313.1 715.2 L314.1 715.9 L314.9 716.5 L317.1 713.5 L316.3 712.9 L315.3 712.2 L314.2 711.3 L312.8 710.3 L311.3 709.2 L309.7 708.0 L307.9 706.8 L306.0 705.6 L304.0 704.3 L301.8 703.0 L299.4 701.5 L296.9 700.1 L294.4 698.6 L291.8 697.1 L289.3 695.7 L286.9 694.3 L284.6 693.1 L282.3 691.8 L279.9 690.5 L277.6 689.3 L275.3 688.1 L272.9 687.0 L270.6 685.9 L268.2 684.8 L265.9 683.9 L263.5 683.0 L261.1 682.1 L258.7 681.3 L256.4 680.6 L254.0 679.8 L251.6 679.2 L249.2 678.5 L246.9 677.9 L244.5 677.3 L242.1 676.8 L239.8 676.3 L237.4 675.9 L235.0 675.5 L232.6 675.1 L230.2 674.8 L227.8 674.5 L225.4 674.3 L223.0 674.1 L220.6 674.0 L218.2 673.8 L215.8 673.8 L213.4 673.7 L211.0 673.6 L208.7 673.5 L206.4 673.5 L204.0 673.5 L201.7 673.5 L199.4 673.5 L197.1 673.6 L194.7 673.6 L192.4 673.7 L190.1 673.8 L187.7 673.9 L185.3 674.1 L183.0 674.2 L180.6 674.4 L178.3 674.6 L175.9 674.8 L173.6 674.9 L171.3 675.0 L168.9 675.2 L166.6 675.3 L164.2 675.4 L161.9 675.6 L159.5 675.7 L157.2 675.9 L154.8 676.1 L152.4 676.3 L150.0 676.5 L147.6 676.7 L145.2 676.9 L142.8 677.2 L140.5 677.4 L138.1 677.6 L135.8 677.8 L133.4 678.0 L131.1 678.2 L128.8 678.4 L126.5 678.6 L124.2 678.8 L121.9 678.9 L119.7 679.1 L117.4 679.2 L115.1 679.2 L112.8 679.3 L110.4 679.3 L108.1 679.3 L105.8 679.3 L103.5 679.2 L101.2 679.1 L98.9 679.0 L96.6 678.9 L94.2 678.7 L91.8 678.5 L89.4 678.2 L87.1 677.9 L84.8 677.7 L82.6 677.3 L80.4 677.0 L78.4 676.7 L76.4 676.4 L74.6 676.1 L72.8 675.7 L71.0 675.3 L69.3 674.9 L67.6 674.5 L65.9 673.9 L64.2 673.4 L62.5 672.7 L60.8 672.1 L59.1 671.4 L57.5 670.6 L55.9 669.8 L54.3 669.0 L52.8 668.1 L51.4 667.1 L49.9 666.0 L48.5 664.9 L47.1 663.7 L45.7 662.4 L44.3 661.1 L42.9 659.7 L41.6 658.4 L40.3 657.0 L39.1 655.6 L37.9 654.3 L36.7 652.8 L35.6 651.4 L34.4 649.9 L33.4 648.4 L32.3 646.8 L31.3 645.1 L30.3 643.4 L29.3 641.7 L28.4 639.9 L27.5 638.1 L26.6 636.3 L25.8 634.4 L25.0 632.4 L24.2 630.4 L23.5 628.3 L22.8 626.3 L22.2 624.1 L21.6 621.9 L21.0 619.6 L20.4 617.2 L19.9 614.6 L19.4 611.9 L19.0 609.0 L18.6 606.0 L18.2 602.9 L17.9 599.6 L17.5 596.3 L17.1 592.9 L16.8 589.5 L16.4 585.9 L16.1 582.2 L15.9 578.3 L15.6 574.3 L15.2 570.3 L14.9 566.3 L14.4 562.6 L13.8 559.0 L13.0 555.6 L12.1 552.3 L11.0 549.2 L9.9 546.3 L8.9 543.7 L8.0 541.5 L7.2 539.6 L6.7 538.2Z" fill="url(#b2)"/>
<path d="M-4.0 585.5 L48.4 594.4 M48.4 594.4 L-4.0 622.0 M48.4 594.4 L32.9 636.7 M48.4 594.4 L42.2 636.7 M32.9 636.7 L42.2 636.7 M32.9 636.7 L-4.0 621.5 M32.9 636.7 L-4.0 634.0 M32.9 636.7 L-4.0 654.0 M32.9 636.7 L47.0 653.3 M42.2 636.7 L47.0 653.3 M47.0 653.3 L-4.0 653.3 M47.0 653.3 L7.8 709.3 M47.0 653.3 L40.7 709.3 M47.0 653.3 L65.0 689.5 M65.0 689.5 L44.4 709.3 M65.0 689.5 L99.0 709.3 M-4.0 656.0 L18.9 685.5 M-4.0 679.0 L18.9 685.5 M-4.0 690.0 L18.9 685.5 M130.0 701.0 L196.7 687.0 M130.0 701.0 L125.5 709.3 M130.0 701.0 L135.8 709.3 M196.7 687.0 L180.0 709.3 M196.7 687.0 L199.0 709.3 M196.7 687.0 L202.5 709.3" fill="none" stroke="#e6eefc" stroke-width="1.4" stroke-linecap="round"/></g>
<path d="M827.10 178.70 A204.6 204.6 0 1 1 629.72 437.17 L727.93 410.37 A102.8 102.8 0 1 0 827.10 280.50 Z" fill="#413f96"/>
<path d="M827.10 178.70 A204.6 204.6 0 0 0 629.72 437.17 L727.93 410.37 A102.8 102.8 0 0 1 827.10 280.50 Z" fill="#78bbe1"/>
</svg>
<div class="title">2026-cı il<br>Azərbaycan üzrə<br>ümumi istinad<br>göstəricisində<br>UNEC-in payı</div>
<div class="pct">41,3%</div>
<div class="lab" style="left:566px;width:120px;top:201px;">UNEC<br>181</div>
<div class="lab" style="left:983.5px;width:120px;top:521.5px;">Ümumi<br>438</div>
<div class="src">SciVal bazası<br>10.03.2026</div>
</body></html>
